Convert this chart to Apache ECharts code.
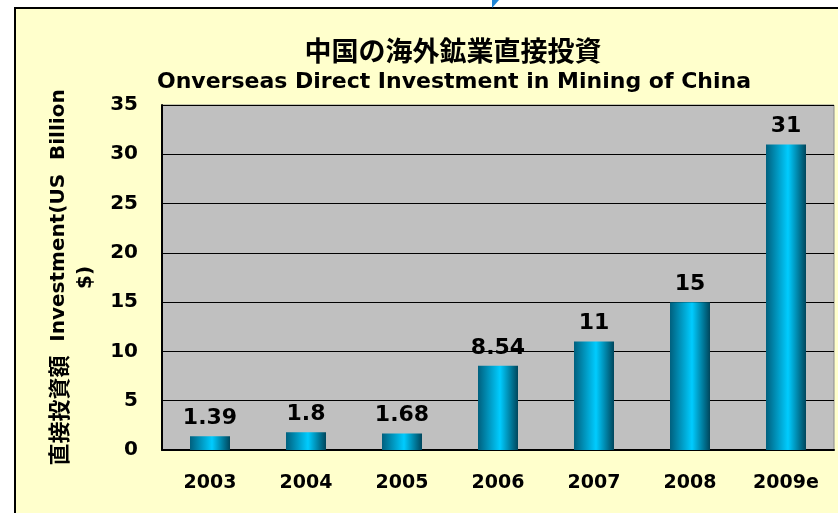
<!DOCTYPE html>
<html>
<head>
    <meta charset="utf-8">
    <script src="https://cdn.jsdelivr.net/npm/echarts@6/dist/echarts.min.js"></script>
    <style>
        html, body { margin: 0; padding: 0; background: #ffffff; }
    </style>
</head>
<body>
<div id="main" style="width:838px;height:513px"></div>
<script>
    // 年度と投資額（US Billion $）
    var years = ['2003', '2004', '2005', '2006', '2007', '2008', '2009e'];
    var investment = [1.39, 1.8, 1.68, 8.54, 11, 15, 31];
    var valueLabels = ['1.39', '1.8', '1.68', '8.54', '11', '15', '31'];
    var yTicks = [0, 5, 10, 15, 20, 25, 30, 35];

    var titleJa = '中国の海外鉱業直接投資';
    var titleEn = 'Onverseas Direct Investment in Mining of China';
    var yNameJa = '直接投資額';
    var yNameEn = '  Investment(US  Billion';
    var yNameEn2 = '$)';

    var latin = 'DejaVu Sans, Noto Sans CJK JP, sans-serif';

    var myChart = echarts.init(document.getElementById('main'));

    var barColor = new echarts.graphic.LinearGradient(0, 0, 1, 0, [
        { offset: 0, color: '#00607e' },
        { offset: 0.55, color: '#00ccff' },
        { offset: 1, color: '#00465c' }
    ]);

    var option = {
        backgroundColor: '#ffffff',
        animation: false,
        graphic: [
            {
                type: 'rect',
                z: -10,
                shape: { x: 15, y: 8, width: 900, height: 600 },
                style: { fill: '#ffffcc', stroke: '#000000', lineWidth: 2 }
            },
            {
                type: 'polygon',
                z: -9,
                shape: { points: [[492, 0], [499, 0], [492, 8]] },
                style: { fill: '#1f86d6' }
            }
        ],
        title: [
            {
                text: titleJa,
                left: 448,
                top: 32,
                textAlign: 'center',
                textStyle: {
                    fontFamily: 'Noto Sans CJK JP',
                    fontSize: 27,
                    fontWeight: 'bold',
                    color: '#000000'
                }
            },
            {
                text: titleEn,
                left: 449,
                top: 66,
                textAlign: 'center',
                textStyle: {
                    fontFamily: latin,
                    fontSize: 22,
                    fontWeight: 'bold',
                    color: '#000000'
                }
            }
        ],
        grid: {
            left: 162,
            right: 4,
            top: 105,
            bottom: 63,
            show: true,
            backgroundColor: '#c0c0c0',
            borderColor: '#8c8c8c',
            borderWidth: 1
        },
        xAxis: {
            type: 'category',
            data: years,
            axisLine: { lineStyle: { color: '#000000', width: 2 } },
            axisTick: { inside: true, length: 6, lineStyle: { color: '#000000', width: 1.5 } },
            axisLabel: {
                margin: 24,
                fontFamily: latin,
                fontSize: 19,
                fontWeight: 'bold',
                color: '#000000'
            }
        },
        yAxis: {
            type: 'value',
            min: yTicks[0],
            max: yTicks[yTicks.length - 1],
            interval: 5,
            name: '{ja|' + yNameJa + '}{en|' + yNameEn + '}\n{en|' + yNameEn2 + '}',
            nameLocation: 'middle',
            nameRotate: 90,
            nameGap: 60,
            nameTextStyle: {
                color: '#000000',
                lineHeight: 27,
                rich: {
                    ja: {
                        fontFamily: 'Noto Sans CJK JP',
                        fontSize: 22,
                        fontWeight: 'bold',
                        color: '#000000',
                        lineHeight: 27
                    },
                    en: {
                        fontFamily: latin,
                        fontSize: 20,
                        fontWeight: 'bold',
                        color: '#000000',
                        lineHeight: 27
                    }
                }
            },
            axisLine: { show: true, lineStyle: { color: '#000000', width: 2 } },
            axisTick: { show: false },
            splitLine: { lineStyle: { color: '#000000', width: 1 } },
            axisLabel: {
                margin: 24,
                fontFamily: latin,
                fontSize: 20,
                fontWeight: 'bold',
                color: '#000000'
            }
        },
        series: [
            {
                type: 'bar',
                data: investment,
                barWidth: 40,
                itemStyle: { color: barColor },
                label: {
                    show: true,
                    position: 'top',
                    distance: 7,
                    fontFamily: latin,
                    fontSize: 22,
                    fontWeight: 'bold',
                    color: '#000000',
                    formatter: function (p) {
                        return valueLabels[p.dataIndex];
                    }
                }
            }
        ]
    };
    myChart.setOption(option);
</script>
</body>
</html>
